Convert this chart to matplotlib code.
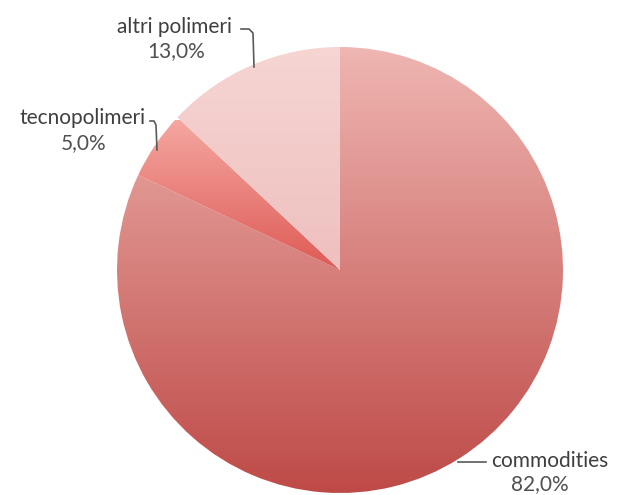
import matplotlib
matplotlib.use("Agg")
import matplotlib.pyplot as plt
import numpy as np
from matplotlib.colors import LinearSegmentedColormap

categories = ["commodities", "tecnopolimeri", "altri polimeri"]
values = [82.0, 5.0, 13.0]
pct_labels = ["82,0%", "5,0%", "13,0%"]

W, H = 625, 495
fig = plt.figure(figsize=(W / 100, H / 100), dpi=100)
ax = fig.add_axes([0, 0, 1, 1])
ax.set_xlim(0, W)
ax.set_ylim(0, H)
ax.set_aspect("equal")
ax.axis("off")

cx, cy, r = 340, H - 270, 223
wedges, _ = ax.pie(values, startangle=90, counterclock=False, radius=r,
                   center=(cx, cy), frame=True,
                   wedgeprops=dict(facecolor="none", edgecolor="none"))
ax.set_xlim(0, W)
ax.set_ylim(0, H)
ax.axis("off")

# gradients (top color, bottom color, y_top, y_bottom)
grads = [
    ("#EFB6B2", "#BE4A47", cy + r, cy - r),
    ("#F5A7A1", "#DE5A55", cy + 150, cy),
    ("#F6D5D3", "#EEC0BE", cy + r, cy),
]
for w, (c1, c2, yt, yb) in zip(wedges, grads):
    cmap = LinearSegmentedColormap.from_list("g", [c2, c1])
    grad = np.linspace(0, 1, 256).reshape(-1, 1)
    im = ax.imshow(grad, cmap=cmap, extent=[cx - r, cx + r, yb, yt],
                   origin="lower", aspect="auto", zorder=1)
    im.set_clip_path(w)

font = "Lato"
tc = "#3F3F3F"
fs = 15
# altri polimeri
ax.text(174, H - 27, categories[2], ha="center", va="center", fontsize=fs, color=tc, family=font)
ax.text(176, H - 51, pct_labels[2], ha="center", va="center", fontsize=fs, color="#505050", family=font)
ax.plot([241, 249, 253, 254], [H - 29, H - 29, H - 33, H - 67], color="#5A5A5A", lw=1.2)
# tecnopolimeri
ax.text(83, H - 118, categories[1], ha="center", va="center", fontsize=fs, color=tc, family=font)
ax.text(84, H - 143, pct_labels[1], ha="center", va="center", fontsize=fs, color="#505050", family=font)
ax.plot([150, 154, 156, 157], [H - 121, H - 121, H - 125, H - 150], color="#5A5A5A", lw=1.2)
# commodities
ax.text(550, H - 461, categories[0], ha="center", va="center", fontsize=fs, color=tc, family=font)
ax.text(540, H - 484, pct_labels[0], ha="center", va="center", fontsize=fs, color="#505050", family=font)
ax.plot([458, 486], [H - 462, H - 462], color="#5A5A5A", lw=1.2)

fig.savefig("out.png", dpi=100)
